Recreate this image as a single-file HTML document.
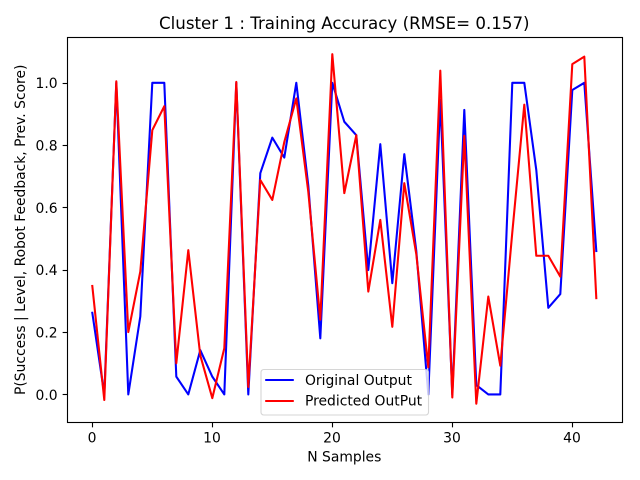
<!DOCTYPE html>
<html>
<head>
<meta charset="utf-8">
<style>
html,body{margin:0;padding:0;background:#fff;}
svg{display:block;}
text{font-family:"DejaVu Sans",sans-serif;fill:#000;}
</style>
</head>
<body>
<svg id="chart" xmlns="http://www.w3.org/2000/svg" width="640" height="480" viewBox="0 0 640 480">
<rect x="0" y="0" width="640" height="480" fill="#fff"/>
<text x="344.3" y="29" font-size="16.67" text-anchor="middle">Cluster 1 : Training Accuracy (RMSE= 0.157)</text>
<text x="344.3" y="461.7" font-size="13.89" text-anchor="middle">N Samples</text>
<text x="0" y="0" font-size="13.89" text-anchor="middle" transform="translate(25,229.8) rotate(-90)">P(Success | Level, Robot Feedback, Prev. Score)</text>
<g id="series"></g>
<g id="axes"></g>
<g id="legend">
<rect x="261" y="369.5" width="167.5" height="45.5" rx="2.8" ry="2.8" fill="#fff" fill-opacity="0.8" stroke="#ccc" stroke-opacity="0.8" stroke-width="1.11"/>
<line x1="265.2" y1="380" x2="293.8" y2="380" stroke="#0000ff" stroke-width="2.08"/>
<text x="305" y="385" font-size="13.89">Original Output</text>
<line x1="265.2" y1="401" x2="293.8" y2="401" stroke="#ff0000" stroke-width="2.08"/>
<text x="305" y="405.7" font-size="13.89">Predicted OutPut</text>
</g>
</svg>
<script>
const originalOutput = [0.262,0.0,1.0,0.0,0.25,1.0,1.0,0.057,0.0,0.142,0.057,0.0,1.0,0.0,0.71,0.824,0.76,1.0,0.67,0.18,1.0,0.875,0.832,0.399,0.803,0.357,0.771,0.46,0.0,0.945,0.0,0.913,0.03,0.0,0.0,1.0,1.0,0.72,0.278,0.322,0.977,1.0,0.46];
const predictedOutput = [0.348,-0.018,1.005,0.2,0.394,0.848,0.925,0.1,0.463,0.125,-0.012,0.148,1.003,0.024,0.688,0.624,0.81,0.95,0.65,0.24,1.092,0.646,0.832,0.33,0.56,0.217,0.678,0.45,0.087,1.039,-0.01,0.83,-0.03,0.314,0.092,0.52,0.93,0.445,0.445,0.378,1.06,1.084,0.309];
const xTickValues = [0,10,20,30,40];
const yTickValues = [0.0,0.2,0.4,0.6,0.8,1.0];

const SVG_NS = 'http://www.w3.org/2000/svg';
function xScale(v){ return 92.3 + v * 12.0; }
function yScale(v){ return 394.4 - v * 311.6; }

function drawSeries(parent, values, color, name){
  const el = document.createElementNS(SVG_NS, 'polyline');
  
  
  el.setAttribute('points', values.map((v, i) => xScale(i).toFixed(2) + ',' + yScale(v).toFixed(2)).join(' '));
  el.setAttribute('fill', 'none');
  el.setAttribute('stroke', color);
  el.setAttribute('stroke-width', '2.08');
  el.setAttribute('stroke-linejoin', 'round');
  el.setAttribute('stroke-linecap', 'square');
  parent.appendChild(el);
}

const seriesGroup = document.getElementById('series');
drawSeries(seriesGroup, originalOutput, '#0000ff', 'original-output-line');
drawSeries(seriesGroup, predictedOutput, '#ff0000', 'predicted-output-line');

const axesGroup = document.getElementById('axes');
const plotLeft = 67.5, plotRight = 622.5, plotTop = 37.5, plotBottom = 422.5;

const frame = document.createElementNS(SVG_NS, 'rect');


frame.setAttribute('x', plotLeft);
frame.setAttribute('y', plotTop);
frame.setAttribute('width', plotRight - plotLeft);
frame.setAttribute('height', plotBottom - plotTop);
frame.setAttribute('fill', 'none');
frame.setAttribute('stroke', '#000');
frame.setAttribute('stroke-width', '1.11');
axesGroup.appendChild(frame);

xTickValues.forEach(function(v){
  const px = Math.round(xScale(v)) + 0.5;
  const tick = document.createElementNS(SVG_NS, 'line');
  
  
  tick.setAttribute('x1', px);
  tick.setAttribute('x2', px);
  tick.setAttribute('y1', plotBottom);
  tick.setAttribute('y2', plotBottom + 4.86);
  tick.setAttribute('stroke', '#000');
  tick.setAttribute('stroke-width', '1.11');
  axesGroup.appendChild(tick);
  const label = document.createElementNS(SVG_NS, 'text');
  
  
  label.setAttribute('x', xScale(v) - 0.3);
  label.setAttribute('y', 442.5);
  label.setAttribute('font-size', '13.89');
  label.setAttribute('text-anchor', 'middle');
  label.textContent = String(v);
  axesGroup.appendChild(label);
});

yTickValues.forEach(function(v){
  const py = Math.round(yScale(v)) + 0.5;
  const tick = document.createElementNS(SVG_NS, 'line');
  
  
  tick.setAttribute('x1', plotLeft - 4.86);
  tick.setAttribute('x2', plotLeft);
  tick.setAttribute('y1', py);
  tick.setAttribute('y2', py);
  tick.setAttribute('stroke', '#000');
  tick.setAttribute('stroke-width', '1.11');
  axesGroup.appendChild(tick);
  const label = document.createElementNS(SVG_NS, 'text');
  
  
  label.setAttribute('x', 57.6);
  label.setAttribute('y', yScale(v) + 5.4);
  label.setAttribute('font-size', '13.89');
  label.setAttribute('text-anchor', 'end');
  label.textContent = v.toFixed(1);
  axesGroup.appendChild(label);
});
</script>
</body>
</html>
